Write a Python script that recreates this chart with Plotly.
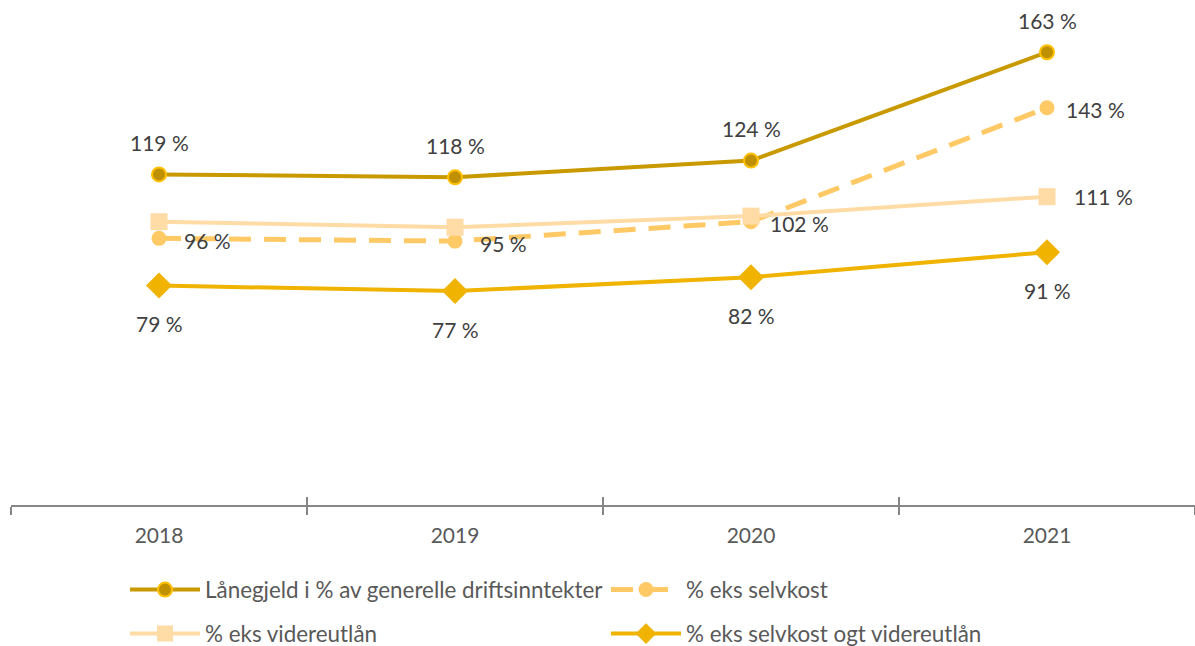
import plotly.graph_objects as go

years = ['2018', '2019', '2020', '2021']
laanegjeld = [119, 118, 124, 163]
eks_selvkost = [96, 95, 102, 143]
eks_videreutlaan = [102, 100, 104, 111]
eks_begge = [79, 77, 82, 91]

names = [
    'Lånegjeld i % av generelle driftsinntekter',
    '% eks selvkost',
    '% eks videreutlån',
    '% eks selvkost ogt videreutlån',
]

FONT = 'Lato'
fig = go.Figure()

fig.add_trace(go.Scatter(
    x=years, y=laanegjeld, name=names[0], mode='lines+markers',
    line=dict(color='#C99A00', width=4),
    marker=dict(symbol='circle', size=14, color='#BF9000', line=dict(color='#FFC000', width=2)),
    legend='legend',
))
fig.add_trace(go.Scatter(
    x=years, y=eks_selvkost, name=names[1], mode='lines+markers',
    line=dict(color='#FFC966', width=5, dash='22px,13px'),
    marker=dict(symbol='circle', size=15, color='#FFC966'),
    legend='legend',
))
fig.add_trace(go.Scatter(
    x=years, y=eks_videreutlaan, name=names[2], mode='lines+markers',
    line=dict(color='#FFDBA6', width=4),
    marker=dict(symbol='square', size=17, color='#FFDBA6'),
    legend='legend2',
))
fig.add_trace(go.Scatter(
    x=years, y=eks_begge, name=names[3], mode='lines+markers',
    line=dict(color='#EFB300', width=4),
    marker=dict(symbol='diamond', size=20, color='#EFB300'),
    legend='legend2',
))

# data labels (x given as category index so the strings are not read as numbers)
def lab(v):
    return f'{v} %'

annotations = []
for i, v in enumerate(laanegjeld):
    annotations.append(dict(x=i, y=v, text=lab(v), yshift=32))
for i, v in enumerate(eks_selvkost):
    annotations.append(dict(x=i, y=v, text=lab(v), xshift=48, yshift=-2))
annotations.append(dict(x=3, y=eks_videreutlaan[3], text=lab(eks_videreutlaan[3]), xshift=56))
for i, v in enumerate(eks_begge):
    annotations.append(dict(x=i, y=v, text=lab(v), yshift=-38))
for a in annotations:
    a.update(showarrow=False, xref='x', yref='y', font=dict(family=FONT, size=21, color='#404040'))

legend_style = dict(
    orientation='h', xanchor='left', yanchor='middle', yref='container',
    entrywidth=396, entrywidthmode='pixels', itemwidth=70,
    bgcolor='rgba(0,0,0,0)',
    font=dict(family=FONT, size=22.4, color='#595959'),
)

fig.update_layout(
    width=1195, height=646,
    margin=dict(l=11, r=0, t=5, b=141),
    paper_bgcolor='white', plot_bgcolor='white',
    annotations=annotations,
    font=dict(family=FONT, color='#595959'),
    legend=dict(legend_style, x=0.0963, y=0.0867),
    legend2=dict(legend_style, x=0.0963, y=0.0186),
    xaxis=dict(
        type='category', range=[-0.5, 3.5], tickson='boundaries',
        ticks='outside', ticklen=8, tickcolor='#868686', tickwidth=1.5,
        showline=True, linecolor='#868686', linewidth=1.5,
        showgrid=False, zeroline=False, ticklabelstandoff=11,
        tickfont=dict(family=FONT, size=21, color='#595959'),
    ),
    xaxis2=dict(
        type='category', range=[-0.5, 3.5], tickson='boundaries', overlaying='x',
        anchor='y', side='bottom', ticks='inside', ticklen=8, tickcolor='#868686',
        tickwidth=1.5, showticklabels=False, showgrid=False, showline=False,
        categoryarray=years, categoryorder='array',
    ),
    yaxis=dict(range=[0, 180], visible=False, showgrid=False),
)

# invisible trace to activate the second x axis (for the upward tick halves)
fig.add_trace(go.Scatter(x=years, y=[None] * 4, xaxis='x2', showlegend=False, hoverinfo='skip'))

fig.write_html('out.html', config={'displayModeBar': False},
               post_script="document.body.style.margin='0';")
